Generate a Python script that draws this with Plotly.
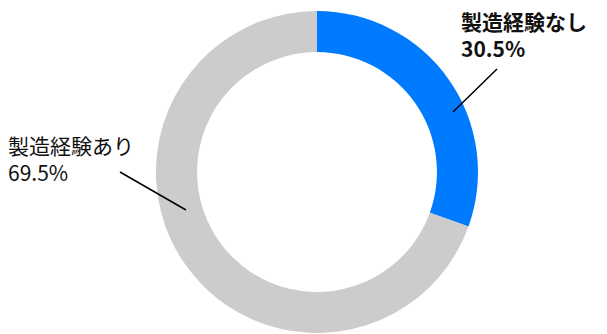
import plotly.graph_objects as go

# Share of respondents with / without manufacturing experience
labels = ["製造経験なし", "製造経験あり"]
values = [30.5, 69.5]
colors = ["#007bff", "#cccccc"]

W, H = 607, 334
CX, CY, R = 317, 172, 161   # donut centre and outer radius in pixels


def px(x):
    return x / W


def py(y):
    return 1 - y / H


fig = go.Figure(
    go.Pie(
        labels=labels,
        values=values,
        marker=dict(colors=colors, line=dict(width=0)),
        hole=0.745,
        sort=False,
        direction="clockwise",
        rotation=0,
        textinfo="none",
        hoverinfo="skip",
        showlegend=False,
        domain=dict(x=[px(CX - R), px(CX + R)], y=[py(CY + R), py(CY - R)]),
    )
)

font_family = "Noto Sans CJK JP"
annotations = [
    # blue slice label (bold), upper right
    dict(text=f"{labels[0]}<br>{values[0]}%", x=px(459), y=py(34), size=21, weight="bold"),
    # grey slice label, left
    dict(text=f"{labels[1]}<br>{values[1]}%", x=px(6), y=py(158), size=21, weight="normal"),
]
for a in annotations:
    fig.add_annotation(
        text=a["text"], x=a["x"], y=a["y"], xref="paper", yref="paper",
        xanchor="left", yanchor="middle", showarrow=False, align="left",
        font=dict(family=font_family, size=a["size"], color="#111111", weight=a["weight"]),
    )

# leader lines from the labels into the ring
leaders = [((497, 69), (453, 112)), ((120, 172), (186, 210))]
for (x0, y0), (x1, y1) in leaders:
    fig.add_shape(
        type="line", xref="paper", yref="paper",
        x0=px(x0), y0=py(y0), x1=px(x1), y1=py(y1),
        line=dict(color="#000000", width=1.5),
    )

fig.update_layout(
    width=W, height=H,
    margin=dict(l=0, r=0, t=0, b=0),
    paper_bgcolor="#ffffff",
    plot_bgcolor="#ffffff",
)

fig.write_html("out.html")
